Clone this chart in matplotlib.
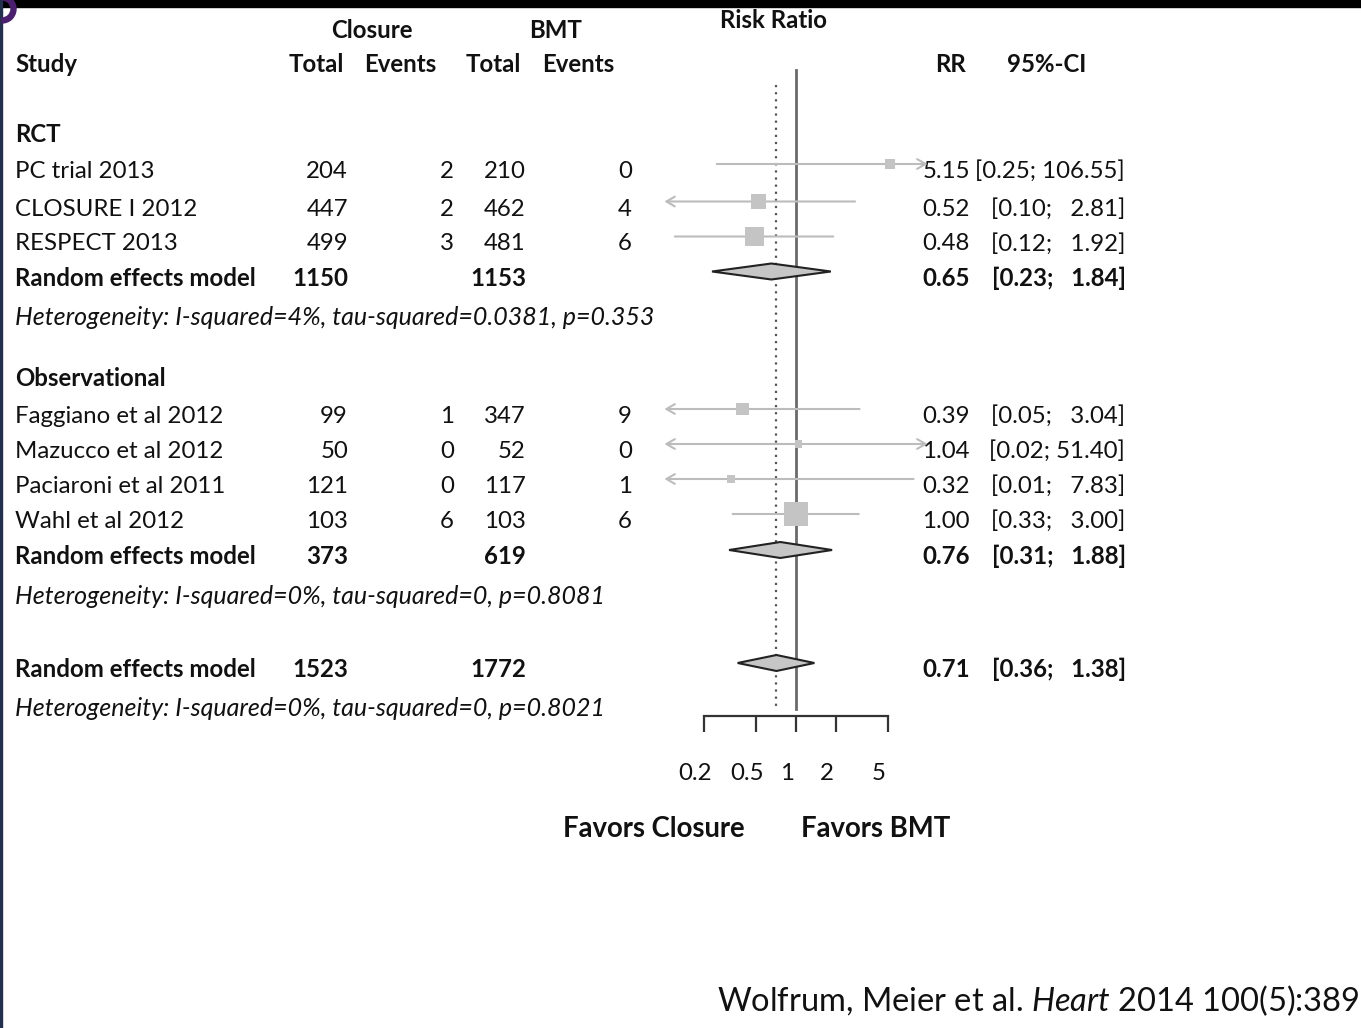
import numpy as np
import matplotlib.pyplot as plt
from matplotlib.patches import Rectangle, Wedge
from matplotlib.transforms import offset_copy

plt.rcParams['font.family'] = ['Lato', 'DejaVu Sans']
plt.rcParams['mathtext.fontset'] = 'custom'
plt.rcParams['mathtext.rm'] = 'Lato'
plt.rcParams['mathtext.it'] = 'Lato:italic'

# Estudos individuais
studies = ["PC trial 2013", "CLOSURE I 2012", "RESPECT 2013",
           "Faggiano et al 2012", "Mazucco et al 2012", "Paciaroni et al 2011", "Wahl et al 2012"]
closure_total = [204, 447, 499, 99, 50, 121, 103]
closure_events = [2, 2, 3, 1, 0, 0, 6]
bmt_total = [210, 462, 481, 347, 52, 117, 103]
bmt_events = [0, 4, 6, 9, 0, 1, 6]
rr = [5.15, 0.52, 0.48, 0.39, 1.04, 0.32, 1.00]
ci_lo = [0.25, 0.10, 0.12, 0.05, 0.02, 0.01, 0.33]
ci_hi = [106.55, 2.81, 1.92, 3.04, 51.40, 7.83, 3.00]
weights = [6.5, 14.6, 23.4, 10.9, 3.2, 4.1, 37.3]  # peso (%)

# Modelos de efeitos aleatórios: RCT, observacional, total
pooled_closure = [1150, 373, 1523]
pooled_bmt = [1153, 619, 1772]
pooled_rr = [0.65, 0.76, 0.71]
pooled_lo = [0.23, 0.31, 0.36]
pooled_hi = [1.84, 1.88, 1.38]
heterogeneity = ["I-squared=4%, tau-squared=0.0381, p=0.353",
                 "I-squared=0%, tau-squared=0, p=0.8081",
                 "I-squared=0%, tau-squared=0, p=0.8021"]

xticks = [0.2, 0.5, 1, 2, 5]
clip = (0.1, 10)

# posições verticais (pixels) das linhas
study_y = [164, 201.5, 236.5, 409, 444, 479, 514]
pooled_y = [271.5, 550, 663]
het_y = [325, 604, 716]

W, H = 1361, 1028
fig = plt.figure(figsize=(W / 100, H / 100), dpi=100)
fig.patch.set_facecolor('white')

# eixo de texto em coordenadas de pixel
tx = fig.add_axes([0, 0, 1, 1])
tx.set_xlim(0, W)
tx.set_ylim(H, 0)
tx.axis('off')

# eixo do forest plot (escala log)
px0, px1, xc, dec = 640, 940, 796, 131.6
ax = fig.add_axes([px0 / W, 0, (px1 - px0) / W, 1])
ax.set_xscale('log')
ax.set_xlim(10 ** ((px0 - xc) / dec), 10 ** ((px1 - xc) / dec))
ax.set_ylim(H, 0)
ax.axis('off')
ax.patch.set_alpha(0)

fs = 17.3
txtc = '#111111'
linec = '#bcbcbc'
sqc = '#c4c4c4'

# cabeçalho
tx.text(774, 28.5, "Risk Ratio", ha='center', va='baseline', fontsize=fs, fontweight='bold', color=txtc)
tx.text(372, 37.5, "Closure", ha='center', va='baseline', fontsize=fs, fontweight='bold', color=txtc)
tx.text(556, 37.5, "BMT", ha='center', va='baseline', fontsize=fs, fontweight='bold', color=txtc)
tx.text(15, 72.5, "Study", ha='left', va='baseline', fontsize=fs, fontweight='bold', color=txtc)
for x, s in zip([316, 400, 493, 578, 951, 1047], ["Total", "Events", "Total", "Events", "RR", "95%-CI"]):
    tx.text(x, 72.5, s, ha='center', va='baseline', fontsize=fs, fontweight='bold', color=txtc)

tx.text(15, 141.5, "RCT", ha='left', va='baseline', fontsize=fs, fontweight='bold', color=txtc)
tx.text(15, 386.5, "Observational", ha='left', va='baseline', fontsize=fs, fontweight='bold', color=txtc)


def ci_text(lo, hi):
    sp = "   " if hi < 10 else " "
    return f"[{lo:.2f};{sp}{hi:.2f}]"


def draw_ci(y, est, lo, hi, w):
    a, b = max(lo, clip[0]), min(hi, clip[1])
    left = lo <= clip[0]
    right = hi >= clip[1]
    style = {(False, False): '-', (True, False): '<-', (False, True): '->', (True, True): '<->'}[(left, right)]
    if style != '-':
        style += ',head_length=0.6,head_width=0.35'
    ax.annotate('', xy=(b, y), xytext=(a, y), annotation_clip=False,
                arrowprops=dict(arrowstyle=style, color=linec, lw=1.5, shrinkA=0, shrinkB=0,
                                mutation_scale=10))
    side = 3.93 * np.sqrt(w) * 0.72
    ax.scatter([est], [y], marker='s', s=side ** 2, color=sqc, edgecolors='none', zorder=3, clip_on=False)


# estudos
for i, name in enumerate(studies):
    y = study_y[i]
    yb = y + 14
    tx.text(15, yb, name, ha='left', va='baseline', fontsize=fs, color=txtc)
    tx.text(348, yb, str(closure_total[i]), ha='right', va='baseline', fontsize=fs, color=txtc)
    tx.text(454, yb, str(closure_events[i]), ha='right', va='baseline', fontsize=fs, color=txtc)
    tx.text(526, yb, str(bmt_total[i]), ha='right', va='baseline', fontsize=fs, color=txtc)
    tx.text(632, yb, str(bmt_events[i]), ha='right', va='baseline', fontsize=fs, color=txtc)
    tx.text(970, yb, f"{rr[i]:.2f}", ha='right', va='baseline', fontsize=fs, color=txtc)
    tx.text(1125, yb, ci_text(ci_lo[i], ci_hi[i]), ha='right', va='baseline', fontsize=fs, color=txtc)
    draw_ci(y, rr[i], ci_lo[i], ci_hi[i], weights[i])

# modelos combinados
for j in range(3):
    y = pooled_y[j]
    yb = y + 14
    tx.text(15, yb, "Random effects model", ha='left', va='baseline', fontsize=fs, fontweight='bold', color=txtc)
    tx.text(348, yb, str(pooled_closure[j]), ha='right', va='baseline', fontsize=fs, fontweight='bold', color=txtc)
    tx.text(526, yb, str(pooled_bmt[j]), ha='right', va='baseline', fontsize=fs, fontweight='bold', color=txtc)
    tx.text(970, yb, f"{pooled_rr[j]:.2f}", ha='right', va='baseline', fontsize=fs, fontweight='bold', color=txtc)
    tx.text(1126, yb, ci_text(pooled_lo[j], pooled_hi[j]), ha='right', va='baseline', fontsize=fs,
            fontweight='bold', color=txtc)
    tx.text(15, het_y[j], "Heterogeneity: " + heterogeneity[j], ha='left', va='baseline', fontsize=18,
            style='italic', color=txtc)
    h = 8
    ax.fill([pooled_lo[j], pooled_rr[j], pooled_hi[j], pooled_rr[j]], [y, y - h, y, y + h],
            facecolor='#c6c6c6', edgecolor='#222222', lw=1.5, zorder=4, clip_on=False)

# linhas de referência
ax.plot([1, 1], [70, 709], color='#6a6a6a', lw=2, zorder=2, clip_on=False)
ax.plot([pooled_rr[2]] * 2, [85, 709], color='#555555', lw=1.6, ls=(0, (1, 2.2)), zorder=2, clip_on=False)

# eixo x
ax.plot([xticks[0], xticks[-1]], [716, 716], color='#333333', lw=1.6, clip_on=False)
ax.vlines(xticks, 716, 732, color='#333333', lw=1.6, clip_on=False)
lab_tr = offset_copy(ax.transData, fig=fig, x=-9, y=0, units='dots')
for t in xticks:
    ax.text(t, 780.5, f"{t:g}", transform=lab_tr, ha='center', va='baseline', fontsize=fs, color=txtc,
            clip_on=False)

tx.text(653.5, 837, "Favors Closure", ha='center', va='baseline', fontsize=19.8, fontweight='bold', color=txtc)
tx.text(875.5, 837, "Favors BMT", ha='center', va='baseline', fontsize=19.8, fontweight='bold', color=txtc)

tx.text(1360, 1011, r"Wolfrum, Meier et al. $\mathit{Heart}$ 2014 100(5):389", ha='right', va='baseline',
        fontsize=23.5, color=txtc)

# moldura do slide
tx.add_patch(Rectangle((0, 0), W, 7, color='black', zorder=10))
tx.add_patch(Rectangle((0, 0), 2.5, H, color='#22304d', zorder=10))
tx.add_patch(Wedge((2, 9), 14, 270, 90, width=5, color='#4a1f6e', zorder=11))

fig.savefig('out.png', dpi=100)
